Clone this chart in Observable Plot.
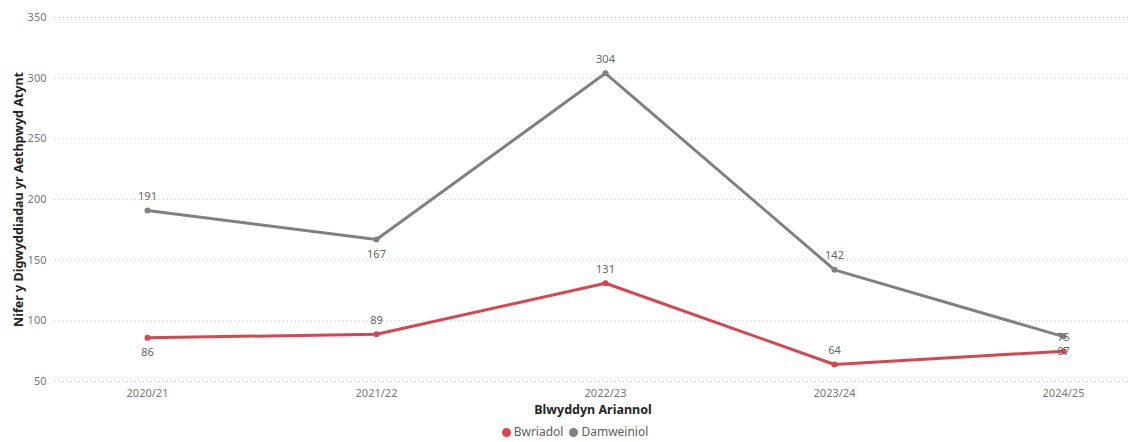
<!DOCTYPE html>
<html>
<head>
<meta charset="utf-8">
<script src="https://cdn.jsdelivr.net/npm/d3@7"></script>
<script src="https://cdn.jsdelivr.net/npm/@observablehq/plot@0.6"></script>
<style>
  body { margin: 0; background: #fff; font-family: "Segoe UI", "Noto Sans", "Open Sans", sans-serif; }
  #chart { width: 1140px; }
  .legend { display: flex; justify-content: center; gap: 6px; font-size: 12px; line-height: 16px; color: #605E5C; margin-top: 3px; padding-left: 10px; }
  .legend span { display: inline-flex; align-items: center; }
  .legend i { display: inline-block; width: 9px; height: 9px; border-radius: 50%; margin-right: 3px; }
</style>
</head>
<body>
<div id="chart"></div>
<script>
const years = ["2020/21", "2021/22", "2022/23", "2023/24", "2024/25"];
const bwriadol = [86, 89, 131, 64, 75];
const damweiniol = [191, 167, 304, 142, 87];
const bwriadolLabelPos = ["below", "above", "above", "above", "above"];
const damweiniolLabelPos = ["above", "below", "above", "above", "below"];
const yTicks = [50, 100, 150, 200, 250, 300, 350];
const seriesNames = ["Bwriadol", "Damweiniol"];
const seriesColors = ["#D64550", "#808080"];

const data = [];
years.forEach((yr, i) => {
  data.push({year: yr, value: bwriadol[i], series: "Bwriadol", pos: bwriadolLabelPos[i]});
  data.push({year: yr, value: damweiniol[i], series: "Damweiniol", pos: damweiniolLabelPos[i]});
});

const font = '"Segoe UI", "Noto Sans", "Open Sans", sans-serif';
const color = {domain: seriesNames, range: seriesColors};

const plot = Plot.plot({
  width: 1140,
  height: 421,
  marginTop: 17,
  marginBottom: 40,
  marginLeft: 55,
  marginRight: 10,
  style: {fontFamily: font, fontSize: "11px", color: "#777", background: "#fff", overflow: "visible"},
  x: {type: "point", domain: years, range: [147, 1063], padding: 0, label: null},
  y: {domain: [50, 350], ticks: yTicks, label: null},
  color,
  marks: [
    Plot.gridY(yTicks, {stroke: "#c8c8c8", strokeOpacity: 1, strokeDasharray: "1,3"}),
    Plot.axisY({ticks: yTicks, tickSize: 0, tickPadding: 9, fontSize: 11, fill: "#777", label: null}),
    Plot.axisX({tickSize: 0, tickPadding: 8, fontSize: 11, fill: "#777", label: null}),
    Plot.line(data, {x: "year", y: "value", z: "series", stroke: "series", strokeWidth: 3}),
    Plot.dot(data, {x: "year", y: "value", fill: "series", r: 3}),
    Plot.text(data.filter(d => d.pos === "above"), {x: "year", y: "value", text: d => String(d.value), dy: -14, fill: "#666", fontSize: 11}),
    Plot.text(data.filter(d => d.pos === "below"), {x: "year", y: "value", text: d => String(d.value), dy: 15, fill: "#666", fontSize: 11}),
    Plot.text(["Blwyddyn Ariannol"], {frameAnchor: "bottom", dy: 28, lineAnchor: "middle", text: d => d, fill: "#252423", fontSize: 12.5, fontWeight: "bold"}),
    Plot.text(["Nifer y Digwyddiadau yr Aethpwyd Atynt"], {frameAnchor: "left", dx: -37, rotate: -90, textAnchor: "middle", lineAnchor: "middle", text: d => d, fill: "#252423", fontSize: 12.5, fontWeight: "bold"})
  ]
});

document.getElementById("chart").appendChild(plot);

const legend = document.createElement("div");
legend.className = "legend";
seriesNames.forEach((n, i) => {
  const s = document.createElement("span");
  const dot = document.createElement("i");
  dot.style.background = seriesColors[i];
  s.appendChild(dot);
  s.appendChild(document.createTextNode(n));
  legend.appendChild(s);
});
document.getElementById("chart").appendChild(legend);
</script>
</body>
</html>
